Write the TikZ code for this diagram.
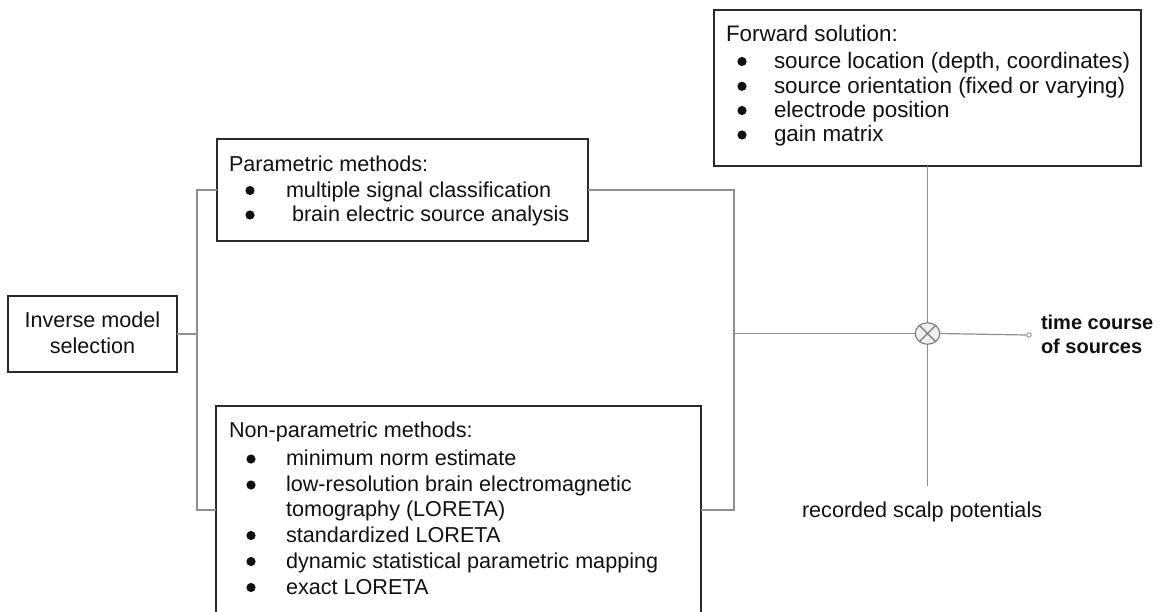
\documentclass[tikz,border=0pt]{standalone}
\usepackage{fontspec}
\setmainfont{Liberation Sans}
\usetikzlibrary{shapes.geometric}
\definecolor{wirec}{HTML}{8E8E8E}
\definecolor{edgec}{HTML}{2A2A2A}
\definecolor{mixfill}{HTML}{EFEFEF}
\definecolor{mixline}{HTML}{7A7A7A}
\definecolor{inkc}{HTML}{111111}

\begin{document}
\begin{tikzpicture}[x=1pt,y=-1pt,
  box/.style={draw=edgec, line width=1.2pt, rectangle, inner sep=0pt, outer sep=0pt},
  wire/.style={draw=wirec, line width=1.2pt},
  txt/.style={anchor=base west, inner sep=0pt, outer sep=0pt, text=inkc,
    font=\fontsize{21.6}{25}\selectfont},
  bigtxt/.style={txt, font=\fontsize{22.4}{25}\selectfont},
  boldtxt/.style={anchor=base west, inner sep=0pt, outer sep=0pt, text=inkc,
    font=\fontsize{20}{24}\selectfont\bfseries},
  dot/.style={fill=inkc}
]
\useasboundingbox (0,0) rectangle (1161,611);
\clip (0,0) rectangle (1161,611);

% ---------- boxes ----------
\node[box, minimum width=169pt, minimum height=76pt] (inv) at (92.5,334) {};
\node[box, minimum width=371pt, minimum height=102pt] (par) at (402.5,190) {};
\node[box, minimum width=485pt, minimum height=214pt] (non) at (458.5,513) {};
\node[box, minimum width=427pt, minimum height=156pt] (fwd) at (927.5,88) {};

% ---------- inverse model selection ----------
\node[txt, anchor=base] (inv1) at (92.5,327.3) {Inverse model};
\node[txt, anchor=base] (inv2) at (92.5,353.3) {selection};

% ---------- parametric methods ----------
\node[txt] (parh) at (229,171.7) {Parametric methods:};
\fill[dot] (250,190.5) circle (4.6);
\node[txt] (par1) at (286,197.3) {multiple signal classification};
\fill[dot] (250,215) circle (4.6);
\node[txt] (par2) at (292,221.7) {brain electric source analysis};

% ---------- non-parametric methods ----------
\node[txt] (nonh) at (229,437.3) {Non-parametric methods:};
\fill[dot] (251,459) circle (4.6);
\node[txt] (non1) at (286,465.7) {minimum norm estimate};
\fill[dot] (251,485) circle (4.6);
\node[txt] (non2) at (286,491.7) {low-resolution brain electromagnetic};
\node[txt] (non2b) at (286,516.9) {tomography (LORETA)};
\fill[dot] (251,535.5) circle (4.6);
\node[txt] (non3) at (286,542) {standardized LORETA};
\fill[dot] (251,561.5) circle (4.6);
\node[txt] (non4) at (286,568) {dynamic statistical parametric mapping};
\fill[dot] (251,587.5) circle (4.6);
\node[txt] (non5) at (286,594) {exact LORETA};

% ---------- forward solution ----------
\node[bigtxt] (fwdh) at (726,41.7) {Forward solution:};
\fill[dot] (742,61.5) circle (4.6);
\node[bigtxt] (fwd1) at (774,68.3) {source location (depth, coordinates)};
\fill[dot] (742,86.3) circle (4.6);
\node[bigtxt] (fwd2) at (774,93) {source orientation (fixed or varying)};
\fill[dot] (742,110.5) circle (4.6);
\node[bigtxt] (fwd3) at (774,117) {electrode position};
\fill[dot] (742,135) circle (4.6);
\node[bigtxt] (fwd4) at (774,141.6) {gain matrix};

% ---------- mixer and output ----------
\node[ellipse, draw=mixline, fill=mixfill, line width=1.1pt,
      minimum width=24.5pt, minimum height=21.5pt, inner sep=0pt] (mix) at (927.5,333.5) {};
\draw[mixline, line width=1.1pt] (mix.45) -- (mix.225) (mix.135) -- (mix.315);
\node[circle, draw=wirec, fill=white, line width=0.9pt, minimum size=4.5pt,
      inner sep=0pt] (out) at (1029,335) {};

\node[boldtxt] (tc1) at (1041,329.3) {time course};
\node[boldtxt] (tc2) at (1041,353.3) {of sources};
\node[txt] (rec) at (802,517.3) {recorded scalp potentials};

% ---------- connectors ----------
\coordinate (lt) at (197,190);
\coordinate (lb) at (197,510);
\coordinate (rt) at (734,190);
\coordinate (rb) at (734,510);
\coordinate (recend) at (927.5,485.5);

\draw[wire] (inv.east) -- (inv.east -| lt);
\draw[wire] (par.west) -- (lt) -- (lb) -- (lb -| non.west);
\draw[wire] (par.east) -- (rt) -- (rb) -- (rb -| non.east);
\draw[wire] (rt |- mix.west) -- (mix.west);
\draw[wire] (fwd.south) -- (mix.north);
\draw[wire] (mix.south) -- (recend);
\draw[wire] (mix.east) -- (out.west);
\end{tikzpicture}
\end{document}
